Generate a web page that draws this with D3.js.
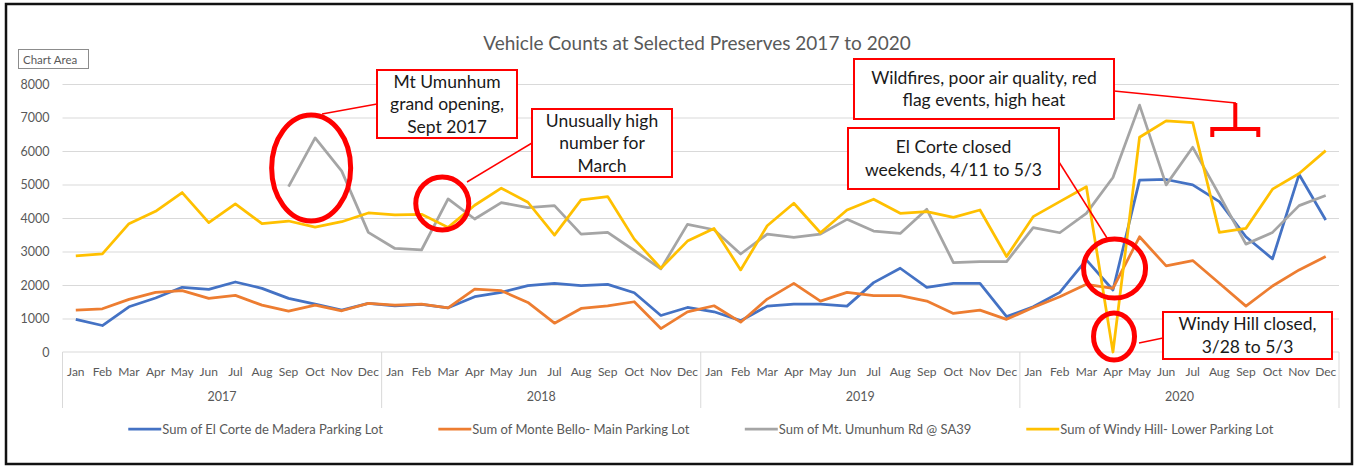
<!DOCTYPE html>
<html>
<head>
<meta charset="utf-8">
<script src="https://cdn.jsdelivr.net/npm/d3@7"></script>
<style>
  body { margin: 0; background: #fff; }
  svg { display: block; font-family: Lato, "Open Sans", sans-serif; }
</style>
</head>
<body>
<div id="wrapper"></div>
<script>
// month / year categories of the two-level x axis
const months = ['Jan', 'Feb', 'Mar', 'Apr', 'May', 'Jun', 'Jul', 'Aug', 'Sep', 'Oct', 'Nov', 'Dec'];
const years = ['2017', '2018', '2019', '2020'];
const yTicks = [0, 1000, 2000, 3000, 4000, 5000, 6000, 7000, 8000];

// monthly vehicle counts, Jan 2017 .. Dec 2020
const elCorte = [
  975, 790, 1350, 1610, 1930, 1870, 2090, 1900, 1600, 1430, 1250, 1450,
  1380, 1420, 1320, 1650, 1780, 1980, 2050, 1980, 2020, 1770, 1090, 1330,
  1200, 935, 1370, 1430, 1430, 1370, 2070, 2500, 1930, 2050, 2050, 1055,
  1350, 1780, 2750, 1850, 5130, 5150, 4990, 4490, 3440, 2780, 5300, 3940
];
const monteBello = [
  1250, 1290, 1570, 1780, 1830, 1600, 1690, 1400, 1220, 1400, 1230, 1450,
  1400, 1430, 1320, 1880, 1830, 1480, 860, 1300, 1380, 1500, 700, 1200,
  1380, 890, 1580, 2050, 1520, 1780, 1680, 1680, 1520, 1150, 1250, 975,
  1330, 1650, 2020, 1900, 3440, 2570, 2730, 2050, 1370, 1970, 2450, 2850
];
const umunhum = [
  null, null, null, null, null, null, null, null, 4935, 6390, 5400, 3570,
  3090, 3045, 4570, 3970, 4460, 4310, 4370, 3520, 3570, 3030, 2480, 3810,
  3650, 2925, 3520, 3420, 3520, 3960, 3610, 3540, 4260, 2670, 2700, 2700,
  3710, 3560, 4140, 5210, 7370, 4990, 6110, 4690, 3220, 3570, 4370, 4670
];
const windyHill = [
  2870, 2930, 3830, 4200, 4760, 3860, 4420, 3830, 3910, 3730, 3890, 4150,
  4090, 4110, 3720, 4380, 4890, 4470, 3490, 4540, 4640, 3370, 2500, 3310,
  3690, 2450, 3770, 4440, 3560, 4240, 4560, 4140, 4190, 4020, 4240, 2850,
  4040, 4490, 4935, 0, 6410, 6900, 6850, 3570, 3690, 4860, 5330, 6010
];

const seriesNames = [
  'Sum of El Corte de Madera Parking Lot',
  'Sum of Monte Bello- Main Parking Lot',
  'Sum of Mt. Umunhum Rd @ SA39',
  'Sum of Windy Hill- Lower Parking Lot'
];
const seriesColors = ['#4472C4', '#ED7D31', '#A5A5A5', '#FFC000'];

function drawLineChart() {
  const dimensions = {
    width: 1357,
    height: 466,
    margin: { top: 84, right: 18, bottom: 114, left: 62.5 },
  };
  dimensions.boundedWidth = dimensions.width - dimensions.margin.left - dimensions.margin.right;
  dimensions.boundedHeight = dimensions.height - dimensions.margin.top - dimensions.margin.bottom;

  const seriesData = [elCorte, monteBello, umunhum, windyHill];
  const categories = d3.range(years.length * months.length);

  const wrapper = d3.select('#wrapper')
    .append('svg')
    .attr('width', dimensions.width)
    .attr('height', dimensions.height);

  // outer frame
  wrapper.append('rect')
    .attr('x', 6).attr('y', 4)
    .attr('width', 1346).attr('height', 460)
    .attr('fill', 'none')
    .attr('stroke', '#111')
    .attr('stroke-width', 2.5);

  // "Chart Area" tooltip box
  wrapper.append('rect')
    .attr('x', 18.5).attr('y', 49.5).attr('width', 70).attr('height', 19)
    .attr('fill', '#fff').attr('stroke', '#8c8c8c');
  wrapper.append('text')
    .attr('x', 23).attr('y', 64)
    .attr('font-size', 11.5).attr('fill', '#595959')
    .text('Chart Area');

  wrapper.append('text')
    .attr('x', 697).attr('y', 50)
    .attr('text-anchor', 'middle')
    .attr('font-size', 19).attr('fill', '#595959')
    .text('Vehicle Counts at Selected Preserves 2017 to 2020');

  const bounds = wrapper.append('g')
    .attr('transform', `translate(${dimensions.margin.left}, ${dimensions.margin.top})`);

  const xScale = d3.scaleBand()
    .domain(categories)
    .range([0, dimensions.boundedWidth]);
  const xCenter = i => xScale(i) + xScale.bandwidth() / 2;
  // continuous version of the category axis, for annotation positions between months
  const xIndex = d3.scaleLinear()
    .domain([-0.5, categories.length - 0.5])
    .range([0, dimensions.boundedWidth]);

  const yScale = d3.scaleLinear()
    .domain([0, 8000])
    .range([dimensions.boundedHeight, 0]);

  // gridlines + y labels
  const yAxis = bounds.append('g')
    .call(d3.axisLeft(yScale).tickValues(yTicks).tickSize(-dimensions.boundedWidth).tickPadding(13).tickFormat(d3.format('d')));
  yAxis.select('.domain').remove();
  yAxis.selectAll('line').attr('stroke', '#d9d9d9');
  yAxis.selectAll('text').attr('fill', '#595959').attr('font-size', 12.5).attr('font-family', 'Lato, sans-serif');
  yAxis.selectAll('.tick').filter(d => d === 0).select('line').remove();

  // two-level category axis
  const xAxis = bounds.append('g')
    .attr('transform', `translate(0, ${dimensions.boundedHeight})`);
  xAxis.append('line')
    .attr('x1', 0).attr('x2', dimensions.boundedWidth)
    .attr('stroke', '#d9d9d9');
  const yearWidth = xScale.bandwidth() * months.length;
  years.forEach((yr, yi) => {
    xAxis.append('line')
      .attr('x1', yi * yearWidth).attr('x2', yi * yearWidth)
      .attr('y1', 0).attr('y2', 56)
      .attr('stroke', '#d9d9d9');
    xAxis.append('text')
      .attr('x', yi * yearWidth + yearWidth / 2).attr('y', 49)
      .attr('text-anchor', 'middle')
      .attr('font-size', 12.5).attr('fill', '#595959')
      .text(yr);
  });
  xAxis.append('line')
    .attr('x1', dimensions.boundedWidth).attr('x2', dimensions.boundedWidth)
    .attr('y1', 0).attr('y2', 56)
    .attr('stroke', '#d9d9d9');
  xAxis.selectAll('.month')
    .data(categories)
    .join('text')
    .attr('class', 'month')
    .attr('x', d => xCenter(d)).attr('y', 24)
    .attr('text-anchor', 'middle')
    .attr('font-size', 12).attr('fill', '#595959')
    .text(d => months[d % 12]);

  // data lines
  const lineGenerator = d3.line()
    .defined(d => d[1] != null)
    .x(d => xCenter(d[0]))
    .y(d => yScale(d[1]));

  seriesData.forEach((values, si) => {
    bounds.append('path')
      .attr('d', lineGenerator(values.map((v, i) => [i, v])))
      .attr('fill', 'none')
      .attr('stroke', seriesColors[si])
      .attr('stroke-width', 2.75)
      .attr('stroke-linejoin', 'round');
  });

  // legend
  const legend = wrapper.append('g').attr('transform', 'translate(0, 429)');
  const items = legend.selectAll('g')
    .data(seriesNames)
    .join('g');
  items.append('line')
    .attr('x1', 0).attr('x2', 33)
    .attr('stroke', (d, i) => seriesColors[i])
    .attr('stroke-width', 2.75);
  items.append('text')
    .attr('x', 34).attr('y', 4.5)
    .attr('font-size', 13).attr('fill', '#595959')
    .text(d => d);
  const widths = items.nodes().map(n => n.getBBox().width);
  const gap = 55;
  const total = d3.sum(widths) + gap * (widths.length - 1);
  let lx = 701 - total / 2;
  items.each(function (d, i) {
    d3.select(this).attr('transform', `translate(${lx}, 0)`);
    lx += widths[i] + gap;
  });

  // ---- annotations (red circles, callout boxes, leader lines) ----
  const red = '#FF0000';
  const ann = wrapper.append('g');
  const px = i => dimensions.margin.left + xIndex(i);
  const py = v => dimensions.margin.top + yScale(v);

  const leaders = [
    [[322, 114], [377, 104]],
    [[467, 182], [532, 143]],
    [[1114, 91], [1236, 103]],
    [[1059, 162], [1107, 238]],
    [[1139, 343], [1163, 338]],
  ];
  leaders.forEach(l => {
    ann.append('line')
      .attr('x1', l[0][0]).attr('y1', l[0][1])
      .attr('x2', l[1][0]).attr('y2', l[1][1])
      .attr('stroke', red).attr('stroke-width', 1.5);
  });

  // circles placed in data space (month index, count), radii in px
  const circles = [
    { i: 8.85, v: 5490, rx: 39.5, ry: 53 },
    { i: 13.78, v: 4430, rx: 26.5, ry: 26.5 },
    { i: 39.06, v: 2490, rx: 31, ry: 29.5 },
    { i: 39.04, v: 460, rx: 20.5, ry: 23.5 },
  ];
  circles.forEach(c => {
    ann.append('ellipse')
      .attr('cx', px(c.i)).attr('cy', py(c.v))
      .attr('rx', c.rx).attr('ry', c.ry)
      .attr('fill', 'none').attr('stroke', red).attr('stroke-width', 5);
  });

  // bracket over the Aug-Sep 2020 wildfire months
  const bx = px(43.6);
  ann.append('path')
    .attr('d', `M${bx},103 V129 M${bx - 23},137 V129 H${bx + 23} V137`)
    .attr('fill', 'none').attr('stroke', red).attr('stroke-width', 4);

  const boxes = [
    { x: 377, y: 70, w: 140, h: 68, lines: ['Mt Umunhum', 'grand opening,', 'Sept 2017'] },
    { x: 532, y: 109, w: 140, h: 68, lines: ['Unusually high', 'number for', 'March'] },
    { x: 854, y: 59, w: 260, h: 60, lines: ['Wildfires, poor air quality, red', 'flag events, high heat'] },
    { x: 848, y: 128, w: 211, h: 61, lines: ['El Corte closed', 'weekends, 4/11 to 5/3'] },
    { x: 1163, y: 312, w: 169, h: 47, lines: ['Windy Hill closed,', '3/28 to 5/3'] },
  ];
  boxes.forEach(b => {
    ann.append('rect')
      .attr('x', b.x).attr('y', b.y).attr('width', b.w).attr('height', b.h)
      .attr('fill', '#fff').attr('stroke', red).attr('stroke-width', 2);
    const lh = 22.5;
    const top = b.y + b.h / 2 - (b.lines.length - 1) * lh / 2;
    b.lines.forEach((t, k) => {
      ann.append('text')
        .attr('x', b.x + b.w / 2).attr('y', top + k * lh + 6)
        .attr('text-anchor', 'middle')
        .attr('font-size', 17.5).attr('fill', '#1a1a1a')
        .text(t);
    });
  });
}

drawLineChart();
</script>
</body>
</html>
